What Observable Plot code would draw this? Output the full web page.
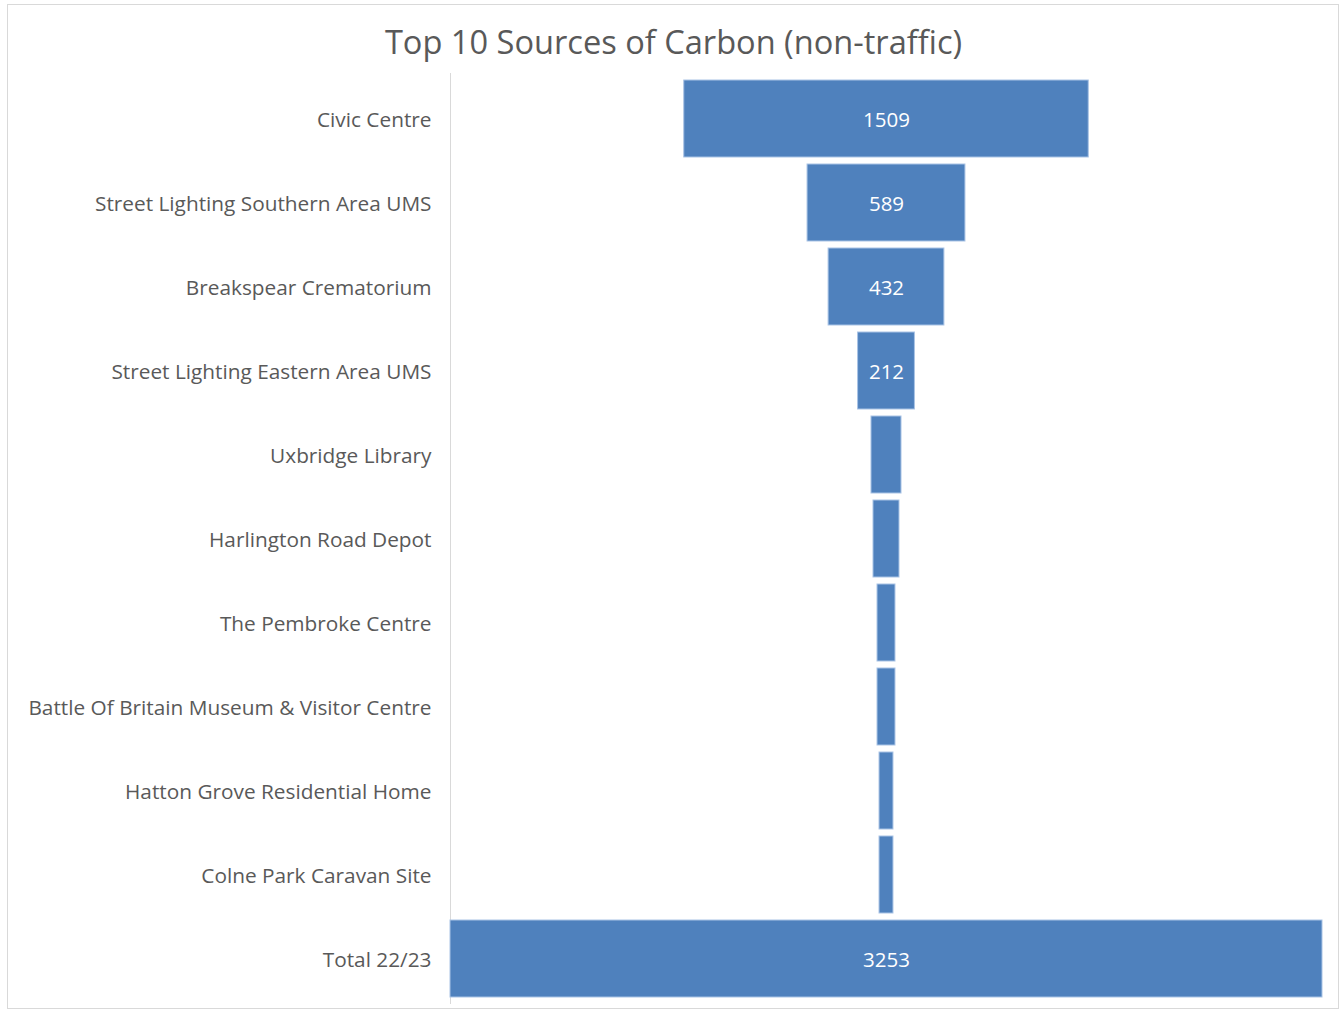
<!DOCTYPE html>
<html>
<head>
<meta charset="utf-8">
<script src="https://cdn.jsdelivr.net/npm/d3@7"></script>
<script src="https://cdn.jsdelivr.net/npm/@observablehq/plot@0.6"></script>
<style>
  html, body { margin: 0; padding: 0; background: #fff; }
  body { width: 1341px; height: 1011px; position: relative; overflow: hidden; }
  #frame { position: absolute; left: 7px; top: 4px; width: 1332px; height: 1005px; box-sizing: border-box; border: 1px solid #d9d9d9; }
  #title { position: absolute; left: 3px; top: 24px; width: 1341px; text-align: center; font-family: "Open Sans", sans-serif; font-size: 32.6px; line-height: 36px; color: #595959; }
  #chart { position: absolute; left: 0; top: 60px; }
</style>
</head>
<body>
<div id="frame"></div>
<div id="title">Top 10 Sources of Carbon (non-traffic)</div>
<div id="chart"></div>
<script>
const categories = [
  "Civic Centre",
  "Street Lighting Southern Area UMS",
  "Breakspear Crematorium",
  "Street Lighting Eastern Area UMS",
  "Uxbridge Library",
  "Harlington Road Depot",
  "The Pembroke Centre",
  "Battle Of Britain Museum & Visitor Centre",
  "Hatton Grove Residential Home",
  "Colne Park Caravan Site",
  "Total 22/23"
];
const values = [1509, 589, 432, 212, 112, 97, 67, 67, 52, 52, 3253];
const showLabel = [true, true, true, true, false, false, false, false, false, false, true];

const data = categories.map((name, i) => ({name, value: values[i], show: showLabel[i]}));
const maxV = d3.max(values);

const chart = Plot.plot({
  width: 1341,
  height: 951,
  marginLeft: 450,
  marginRight: 19,
  marginTop: 13,
  marginBottom: 7,
  style: {fontFamily: "'Open Sans', sans-serif", fontSize: "20px", background: "transparent"},
  x: {domain: [-maxV / 2, maxV / 2], axis: null},
  y: {domain: categories, padding: 0.083, label: null},
  marks: [
    Plot.ruleX([-maxV / 2], {stroke: "#d9d9d9", strokeWidth: 1}),
    Plot.barX(data, {
      y: "name",
      x1: d => -d.value / 2,
      x2: d => d.value / 2,
      fill: "#4F81BD",
      stroke: "#A9C3E5",
      strokeWidth: 1
    }),
    Plot.text(data.filter(d => d.show), {
      y: "name",
      x: 0,
      dy: 1,
      text: d => String(d.value),
      fill: "white",
      fontSize: 20.5,
      textAnchor: "middle"
    }),
    Plot.axisY({tickSize: 0, tickPadding: 19, dy: 1, fontSize: 20.8, fill: "#595959", label: null})
  ]
});
document.getElementById("chart").appendChild(chart);
</script>
</body>
</html>
